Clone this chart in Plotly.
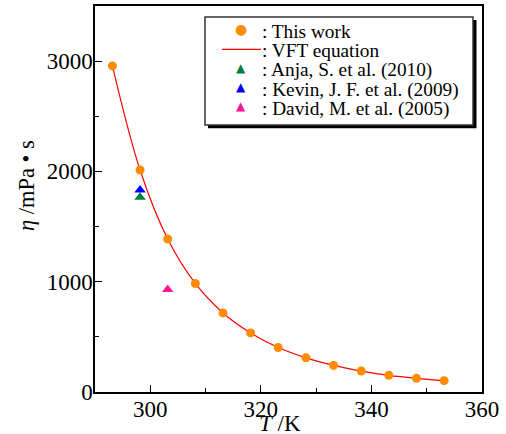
import plotly.graph_objects as go

# Data
T_this = [293.15, 298.15, 303.15, 308.15, 313.15, 318.15, 323.15, 328.15, 333.15, 338.15, 343.15, 348.15, 353.15]
eta_this = [2957, 2013, 1387, 984, 717, 536, 403, 310, 241, 190, 151, 124, 103]
T_anja = [298.15]
eta_anja = [1766]
T_kevin = [298.15]
eta_kevin = [1832]
T_david = [303.15]
eta_david = [930]

x_ticks = [300, 320, 340, 360]
y_ticks = [0, 1000, 2000, 3000]

legend_labels = [": This work", ": VFT equation", ": Anja, S. et al. (2010)",
                 ": Kevin, J. F. et al. (2009)", ": David, M. et al. (2005)"]
legend_symbols = ["●", None, "▲", "▲", "▲"]

C_THIS = "#FF8C00"
C_VFT = "#FF0000"
C_ANJA = "#008040"
C_KEVIN = "#0000FF"
C_DAVID = "#FF1493"
legend_colors = [C_THIS, C_VFT, C_ANJA, C_KEVIN, C_DAVID]

FONT = "Liberation Serif"
W, H = 506, 434
ML, MR, MT, MB = 95, 24, 4, 42
PW, PH = W - ML - MR, H - MT - MB


def px(xp):
    return (xp - ML) / PW


def py(yp):
    return (H - MB - yp) / PH


fig = go.Figure()
fig.add_trace(go.Scatter(x=T_this, y=eta_this, mode="lines", showlegend=False,
                         line=dict(color=C_VFT, width=1.2, shape="spline", smoothing=1)))
fig.add_trace(go.Scatter(x=T_this, y=eta_this, mode="markers", showlegend=False,
                         marker=dict(symbol="circle", size=9, color=C_THIS)))
fig.add_trace(go.Scatter(x=T_anja, y=eta_anja, mode="markers", showlegend=False,
                         marker=dict(symbol="triangle-up", size=10, color=C_ANJA)))
fig.add_trace(go.Scatter(x=T_kevin, y=eta_kevin, mode="markers", showlegend=False,
                         marker=dict(symbol="triangle-up", size=10, color=C_KEVIN)))
fig.add_trace(go.Scatter(x=T_david, y=eta_david, mode="markers", showlegend=False,
                         marker=dict(symbol="triangle-up", size=10, color=C_DAVID)))

fig.update_layout(
    width=W, height=H,
    margin=dict(l=ML, r=MR, t=MT, b=MB),
    paper_bgcolor="white", plot_bgcolor="white",
    font=dict(family=FONT, size=23, color="black"),
    showlegend=False,
    xaxis=dict(range=[290, 360], tickvals=x_ticks, ticks="inside", ticklen=7, tickwidth=1.2,
               tickcolor="black", showline=True, linecolor="black", linewidth=1.5, mirror=True,
               showgrid=False, zeroline=False, ticklabelstandoff=-4,
               minor=dict(dtick=10, tick0=290, ticks="inside", ticklen=4, tickcolor="black", tickwidth=1.2),
               tickfont=dict(family=FONT, size=23)),
    yaxis=dict(range=[0, 3500], tickvals=y_ticks, ticks="inside", ticklen=7, tickwidth=1.2,
               tickcolor="black", showline=True, linecolor="black", linewidth=1.5, mirror=True,
               showgrid=False, zeroline=False, ticklabelstandoff=-4,
               minor=dict(dtick=500, tick0=0, ticks="inside", ticklen=4, tickcolor="black", tickwidth=1.2),
               tickfont=dict(family=FONT, size=23)),
)

# axis titles
fig.add_annotation(text="<i>T</i> /K", xref="paper", yref="paper", x=px(279.5), y=py(424),
                   xanchor="center", yanchor="middle", showarrow=False,
                   font=dict(family=FONT, size=23))
fig.add_annotation(text="<i>η</i> /mPa • s", xref="paper", yref="paper", x=px(26), y=py(185),
                   xanchor="center", yanchor="middle", showarrow=False, textangle=-90,
                   font=dict(family=FONT, size=22.5))

# legend: shadow + box
fig.add_shape(type="rect", xref="paper", yref="paper", layer="above",
              x0=px(208), x1=px(476.5), y0=py(126.8), y1=py(18),
              fillcolor="black", line=dict(width=0))
fig.add_shape(type="rect", xref="paper", yref="paper", layer="above",
              x0=px(205), x1=px(473), y0=py(123.5), y1=py(15),
              fillcolor="white", line=dict(color="#333333", width=1.5))

row_y = [29, 48.5, 68, 87.5, 107]
for label, sym, col, yy in zip(legend_labels, legend_symbols, legend_colors, row_y):
    fig.add_annotation(text=label, xref="paper", yref="paper", x=px(260), y=py(yy + 0.5),
                       xanchor="left", yanchor="middle", showarrow=False,
                       font=dict(family=FONT, size=19.3, color="black"))
    if sym is None:
        fig.add_shape(type="line", xref="paper", yref="paper", layer="above",
                      x0=px(222), x1=px(261), y0=py(47.5), y1=py(47.5),
                      line=dict(color=col, width=1.2))
    else:
        fig.add_annotation(text=sym, xref="paper", yref="paper", x=px(241), y=py(yy - 2),
                           xanchor="center", yanchor="middle", showarrow=False,
                           font=dict(family="DejaVu Sans", size=14 if sym == "●" else 12, color=col))

fig.write_html("out.html")
